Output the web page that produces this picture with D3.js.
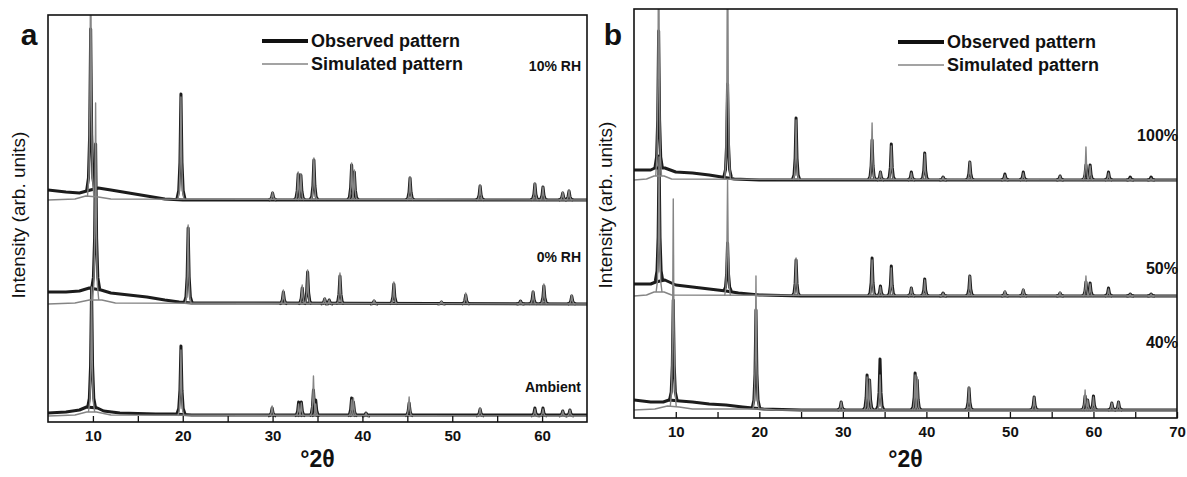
<!DOCTYPE html>
<html><head><meta charset="utf-8">
<script src="https://cdn.jsdelivr.net/npm/d3@7"></script>
<style>
body{margin:0;background:#fff}
svg{display:block}
text{font-family:"Liberation Sans",Arial,sans-serif;fill:#111}
</style>
</head><body>
<svg id="c" width="1187" height="477"></svg>
<script>
// ---------- tick labels ----------
const ticksMajorA = [10, 20, 30, 40, 50, 60];
const ticksMinorA = [15, 25, 35, 45, 55];
const ticksMajorB = [10, 20, 30, 40, 50, 60, 70];
const ticksMinorB = [15, 25, 35, 45, 55, 65];

// ---------- panel a : backgrounds [2θ, intensity] ----------
const ambObsBg = [[5,3],[7,4],[8.5,6],[9.3,9],[10.5,8],[11.2,5],[13,3],[17,2],[19,2],[21,1],[30,1],[50,1],[65,1]];
const ambSimBg = [[5,0],[8,1],[9.3,4],[10.4,4],[12,1],[65,0]];
const rh0ObsBg = [[5,12],[7,12],[8.5,13],[9.6,16],[10.9,14],[12,11],[14,9],[16,7],[18,4],[19.6,2],[21,1],[30,1],[65,0]];
const rh0SimBg = [[5,0],[8,1],[9.6,4],[11,4],[12.5,1],[65,0]];
const rh10ObsBg = [[5,10],[7,8],[8.5,7],[9.3,9],[10.6,12],[12,10],[14,7],[16,4],[18,1],[20,0],[65,0]];
const rh10SimBg = [[5,0],[8,1],[9.2,4],[10.6,3],[12,1],[65,0]];

// peaks: [2θ, observed height, simulated height, observed base, simulated base]
const ambPeaks = [[9.85,120,125,8,4],[19.8,68,66,2,0],[29.95,8,10],[32.9,14,12],[33.2,14,13],[34.55,26,40],[34.8,16,12],
  [38.8,18,16],[39.0,14,18],[40.4,3,3],[45.2,13,19],[53.1,7,8],[59.2,8,7],[60.1,8,7],[62.3,5,5],[63.1,6,6]];
const rh0Peaks = [[10.3,145,197,15,4],[20.6,75,79,1,0],[31.2,12,14],[33.3,16,19],[33.9,32,34],[35.8,5,6],[36.3,4,4],
  [37.5,28,31],[41.3,3,4],[43.5,20,22],[48.8,2,3],[51.5,9,11],[57.6,3,3],[59.0,12,13],[60.2,18,20],[63.3,8,9]];
const rh10Peaks = [[9.75,162,260,9,4],[19.8,105,103,1,0],[30.0,7,8],[32.85,26,28],[33.15,25,26],[34.6,40,42],
  [38.8,35,37],[39.1,28,30],[45.3,22,23],[53.1,14,15],[59.2,16,17],[60.1,13,13],[62.3,7,8],[63.0,9,10]];

// ---------- panel b ----------
const b40ObsBg = [[5,10],[7,8],[8.5,8],[9.2,10],[10.5,9],[12,8],[14,6],[16,5],[18,3],[19.2,2],[20.5,1],[25,0],[70,0]];
const b40SimBg = [[5,0],[7.5,1],[9,4],[10.4,3],[12,1],[18.5,1],[20.5,1],[22,0],[70,0]];
const b50ObsBg = [[5,12],[7,12],[7.6,14],[8.7,16],[10,11],[12,9],[14,7],[16,5],[17.5,3],[20,1],[25,0],[70,0]];
const b50SimBg = [[5,0],[6.5,1],[7.4,4],[8.6,4],[9.5,1],[70,0]];
const b100ObsBg = [[5,10],[7,10],[7.5,12],[8.7,12],[10,8],[12,7],[14,5],[15.5,3],[17,1],[20,0],[70,0]];
const b100SimBg = [[5,0],[6.5,1],[7.4,4],[8.6,4],[9.5,1],[70,0]];

const b40Peaks = [[9.7,100,207,10,4],[19.6,98,133,2,1],[29.8,8,8],[32.9,35,33],[33.2,30,30],[34.45,51,35],
  [38.65,37,35],[38.9,30,33],[45.1,22,23],[52.9,13,13],[59.0,14,20],[59.3,10,10],[60.0,14,13],[62.2,7,7],[63.0,8,8]];
const b50Peaks = [[8.0,125,135,15,4],[16.2,48,116,5,0],[24.4,36,38],[33.5,38,36],[34.5,10,9],[35.8,30,28],[38.2,8,8],
  [39.8,17,16],[42.0,3,3],[45.2,20,20],[49.4,4,5],[51.6,6,7],[56.0,3,4],[59.1,14,20],[59.6,13,12],[61.8,8,7],[64.4,2,2],[66.9,2,2]];
const b100Peaks = [[7.95,137,260,12,4],[16.2,93,260,3,0],[24.4,62,60],[33.5,40,57],[34.5,8,8],[35.8,36,34],[38.2,8,7],
  [39.8,27,26],[42.0,3,3],[45.2,18,18],[49.4,6,5],[51.6,8,7],[56.0,4,4],[59.1,15,33],[59.6,15,14],[61.8,8,7],[64.4,3,2],[66.9,3,2]];

const seriesLabelsA = ["Ambient", "0% RH", "10% RH"];
const seriesOffsetsA = [0, 112, 216];
const seriesLabelsB = ["40%", "50%", "100%"];
const seriesOffsetsB = [0, 114, 230];
const legendLabels = ["Observed pattern", "Simulated pattern"];

// ---------- drawing ----------
const svg = d3.select("#c");
const peakShape = [[-1,0],[-0.55,0.08],[-0.25,0.35],[0,1],[0.25,0.35],[0.55,0.08],[1,0]];

function peakPts(pos, base, h, w, off) {
  return peakShape.map(s => [pos + s[0]*w, off + base + s[1]*h]);
}

function drawPanel(cfg) {
  const x = d3.scaleLinear().domain(cfg.xDomain).range([cfg.left, cfg.right]);
  const y = d3.scaleLinear().domain(cfg.yDomain).range([cfg.bottom, cfg.top]);
  const clipId = "clip" + cfg.name;
  svg.append("clipPath").attr("id", clipId).append("rect")
    .attr("x", cfg.left).attr("y", cfg.top)
    .attr("width", cfg.right - cfg.left).attr("height", cfg.bottom - cfg.top);
  const line = d3.line().x(d => x(d[0])).y(d => y(d[1]));
  const g = svg.append("g").attr("clip-path", `url(#${clipId})`);

  cfg.series.forEach(s => {
    const obs = [s.obsBg.map(d => [d[0], d[1] + s.offset])];
    s.peaks.forEach(p => obs.push(peakPts(p[0], p[3] || 0, p[1], cfg.wObs, s.offset)));
    g.selectAll(null).data(obs).enter().append("path")
      .attr("d", line).attr("fill", "none").attr("stroke", "#1c1c1c")
      .attr("stroke-width", 3).attr("stroke-linejoin", "round");
  });
  cfg.series.forEach(s => {
    const sim = [s.simBg.map(d => [d[0], d[1] + s.offset])];
    s.peaks.forEach(p => sim.push(peakPts(p[0], p[4] || 0, p[2], cfg.wSim, s.offset)));
    g.selectAll(null).data(sim).enter().append("path")
      .attr("d", line).attr("fill", "none").attr("stroke", "#858585")
      .attr("stroke-width", 1.4).attr("stroke-linejoin", "round");
  });

  // axes
  const ax = svg.append("g").attr("transform", `translate(0,${cfg.bottom})`)
    .call(d3.axisBottom(x).tickValues(cfg.major).tickSize(-6).tickPadding(8).tickFormat(d3.format("d")));
  ax.select(".domain").remove();
  ax.selectAll(".tick line").attr("stroke", "#111").attr("stroke-width", 1.3);
  ax.selectAll("text").attr("font-size", 15).attr("font-weight", "bold")
    .attr("font-family", '"Liberation Sans",Arial,sans-serif').attr("fill", "#111");
  const axm = svg.append("g").attr("transform", `translate(0,${cfg.bottom})`)
    .call(d3.axisBottom(x).tickValues(cfg.minor).tickSize(-6).tickFormat(""));
  axm.select(".domain").remove();
  axm.selectAll(".tick line").attr("stroke", "#111").attr("stroke-width", 1.3);

  // frame
  svg.append("rect").attr("x", cfg.left).attr("y", cfg.top)
    .attr("width", cfg.right - cfg.left).attr("height", cfg.bottom - cfg.top)
    .attr("fill", "none").attr("stroke", "#111").attr("stroke-width", 1.6);

  // series labels
  cfg.series.forEach((s, i) => {
    svg.append("text").attr("x", cfg.labelX).attr("y", cfg.labelY[i])
      .attr("text-anchor", "end").attr("font-weight", "bold").attr("font-size", cfg.labelSize)
      .text(s.label);
  });

  // legend
  const lg = [{c:"#111", w:4}, {c:"#858585", w:1.5}];
  lg.forEach((l, i) => {
    const ly = cfg.legendY + i * 23;
    svg.append("line").attr("x1", cfg.legendX).attr("x2", cfg.legendX + 46)
      .attr("y1", ly).attr("y2", ly).attr("stroke", l.c).attr("stroke-width", l.w);
    svg.append("text").attr("x", cfg.legendX + 49).attr("y", ly + 6)
      .attr("font-weight", "bold").attr("font-size", 18).text(legendLabels[i]);
  });

  // axis titles
  svg.append("text").attr("x", (cfg.left + cfg.right) / 2).attr("y", 467)
    .attr("text-anchor", "middle").attr("font-weight", "bold").attr("font-size", 23).text("°2θ");
  svg.append("text").attr("transform", `translate(${cfg.yTitleX},${cfg.yTitleY}) rotate(-90)`)
    .attr("text-anchor", "middle").attr("font-size", 19).text("Intensity (arb. units)");
  svg.append("text").attr("x", cfg.letterX).attr("y", 45).attr("text-anchor", "middle")
    .attr("font-weight", "bold").attr("font-size", 30).text(cfg.name);
}

drawPanel({
  name: "a", left: 48, right: 587, top: 15, bottom: 422,
  xDomain: [5, 65], yDomain: [-6, 401],
  major: ticksMajorA, minor: ticksMinorA, wObs: 0.45, wSim: 0.35,
  series: [
    {label: seriesLabelsA[0], offset: seriesOffsetsA[0], obsBg: ambObsBg, simBg: ambSimBg, peaks: ambPeaks},
    {label: seriesLabelsA[1], offset: seriesOffsetsA[1], obsBg: rh0ObsBg, simBg: rh0SimBg, peaks: rh0Peaks},
    {label: seriesLabelsA[2], offset: seriesOffsetsA[2], obsBg: rh10ObsBg, simBg: rh10SimBg, peaks: rh10Peaks}
  ],
  labelX: 581, labelY: [392, 262, 71], labelSize: 14,
  legendX: 262, legendY: 41, yTitleX: 25, yTitleY: 215, letterX: 29
});

drawPanel({
  name: "b", left: 634, right: 1177, top: 9, bottom: 418,
  xDomain: [5, 70], yDomain: [-8, 401],
  major: ticksMajorB, minor: ticksMinorB, wObs: 0.45, wSim: 0.35,
  series: [
    {label: seriesLabelsB[0], offset: seriesOffsetsB[0], obsBg: b40ObsBg, simBg: b40SimBg, peaks: b40Peaks},
    {label: seriesLabelsB[1], offset: seriesOffsetsB[1], obsBg: b50ObsBg, simBg: b50SimBg, peaks: b50Peaks},
    {label: seriesLabelsB[2], offset: seriesOffsetsB[2], obsBg: b100ObsBg, simBg: b100SimBg, peaks: b100Peaks}
  ],
  labelX: 1178, labelY: [348, 274, 141], labelSize: 16,
  legendX: 898, legendY: 42, yTitleX: 612, yTitleY: 205, letterX: 613
});
</script>
</body></html>
